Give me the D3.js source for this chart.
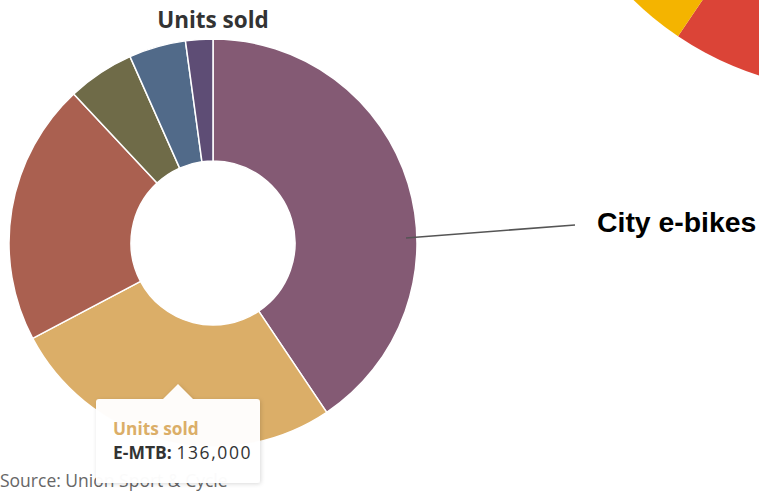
<!DOCTYPE html>
<html>
<head>
<meta charset="utf-8">
<script src="https://cdn.jsdelivr.net/npm/d3@7"></script>
<style>
  html, body { margin: 0; padding: 0; background: #ffffff; }
  svg { display: block; }
</style>
</head>
<body>
<svg id="chart" width="759" height="491"></svg>
<script>
// ---- data ----
const categories = ["City e-bikes", "E-MTB", "Trekking e-bikes", "Cargo e-bikes", "Speed pedelecs", "Other"];
const unitsSold = [207000, 136000, 106000, 27000, 23000, 11000];
const sliceColors = ["#845a74", "#dbae68", "#aa6050", "#6f6b48", "#516a89", "#5e4d75"];
const chartTitle = "Units sold";
const sourceText = "Source: Union Sport & Cycle";
const calloutLabel = "City e-bikes";
const tooltipSeries = "Units sold";
const tooltipCategory = "E-MTB";
// decorative pie in the top-right corner
const decorValues = [1, 1, 1, 1];
const decorColors = ["#4285f4", "#db4437", "#f4b400", "#0f9d58"];

const FONT = "'Open Sans', Lato, sans-serif";
const svg = d3.select("#chart");

// ---- decorative pie ----
const decorPie = d3.pie().sort(null).value(d => d)
  .startAngle(124 * Math.PI / 180 - Math.PI / 2)
  .endAngle(124 * Math.PI / 180 - Math.PI / 2 + 2 * Math.PI);
const decorArc = d3.arc().innerRadius(0).outerRadius(320);
svg.append("g").attr("transform", "translate(857,-229)")
  .selectAll("path").data(decorPie(decorValues)).join("path")
  .attr("d", decorArc).attr("fill", (d, i) => decorColors[i]);

// ---- donut ----
const cx = 213, cy = 243, rOuter = 204, rInner = 82;
const pie = d3.pie().sort(null).value(d => d);
const arcs = pie(unitsSold);
const arc = d3.arc().innerRadius(rInner).outerRadius(rOuter);
const g = svg.append("g").attr("transform", `translate(${cx},${cy})`);
g.selectAll("path").data(arcs).join("path")
  .attr("d", arc)
  .attr("fill", (d, i) => sliceColors[i])
  .attr("stroke", "#ffffff")
  .attr("stroke-width", 1.5)
  .attr("stroke-linejoin", "round");

// title
svg.append("text")
  .attr("x", cx).attr("y", 28)
  .attr("text-anchor", "middle")
  .attr("font-family", FONT)
  .attr("font-weight", 700)
  .attr("font-size", 22.5)
  .attr("fill", "#333333")
  .text(chartTitle);

// callout line + label for City e-bikes
svg.append("line")
  .attr("x1", cx + 193).attr("y1", 238)
  .attr("x2", 575).attr("y2", 225)
  .attr("stroke", "#555555")
  .attr("stroke-width", 1.6);
svg.append("text")
  .attr("x", 597).attr("y", 232)
  .attr("font-family", "'Liberation Sans', Arial, sans-serif")
  .attr("font-weight", 700)
  .attr("font-size", 28.4)
  .attr("fill", "#000000")
  .text(calloutLabel);

// source
svg.append("text")
  .attr("x", 0).attr("y", 487)
  .attr("font-family", FONT)
  .attr("font-size", 17.5)
  .attr("fill", "#666666")
  .text(sourceText);

// tooltip
const defs = svg.append("defs");
const filt = defs.append("filter").attr("id", "shadow")
  .attr("x", "-20%").attr("y", "-20%").attr("width", "140%").attr("height", "140%");
filt.append("feDropShadow").attr("dx", 1).attr("dy", 1).attr("stdDeviation", 2)
  .attr("flood-color", "#000").attr("flood-opacity", 0.15);

const emtbIdx = categories.indexOf(tooltipCategory);
const tt = svg.append("g").attr("filter", "url(#shadow)");
tt.append("path")
  .attr("d", "M99,399 L163,399 L178,384 L193,399 L257,399 Q260,399 260,402 L260,480 Q260,483 257,483 L99,483 Q96,483 96,480 L96,402 Q96,399 99,399 Z")
  .attr("fill", "#ffffff")
  .attr("fill-opacity", 0.97);
svg.append("text")
  .attr("x", 113).attr("y", 435)
  .attr("font-family", FONT)
  .attr("font-weight", 700)
  .attr("font-size", 17.3)
  .attr("fill", sliceColors[emtbIdx])
  .text(tooltipSeries);
const t2 = svg.append("text")
  .attr("x", 113).attr("y", 459)
  .attr("font-family", FONT)
  .attr("font-size", 17.5)
  .attr("fill", "#333333");
t2.append("tspan").attr("font-weight", 700).text(tooltipCategory + ": ");
t2.append("tspan").attr("letter-spacing", 1.6).text(d3.format(",")(unitsSold[emtbIdx]));
</script>
</body>
</html>
